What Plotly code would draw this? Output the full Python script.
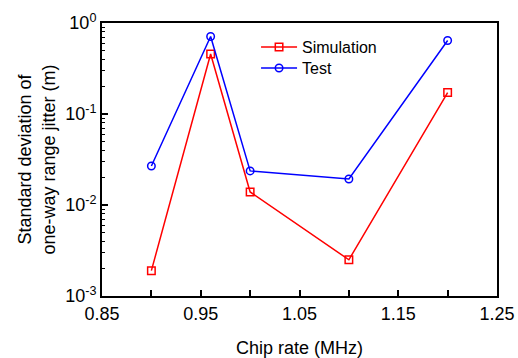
import plotly.graph_objects as go

chip_rate = [0.90, 0.96, 1.00, 1.10, 1.20]
simulation = [0.0019, 0.456, 0.0139, 0.0025, 0.172]
test = [0.0268, 0.711, 0.0237, 0.0193, 0.643]

x_tickvals = [0.85, 0.95, 1.05, 1.15, 1.25]
x_ticktext = ["0.85", "0.95", "1.05", "1.15", "1.25"]
x_minor = [0.90, 1.00, 1.10, 1.20]
y_tickvals = [1e-3, 1e-2, 1e-1, 1e0]
y_ticktext = ["10<sup>-3</sup>", "10<sup>-2</sup>", "10<sup>-1</sup>", "10<sup>0</sup>"]
y_minor = [m * 10 ** e for e in (-3, -2, -1) for m in range(2, 10)]

FONT = "Liberation Sans, Arial, sans-serif"

fig = go.Figure()
fig.add_trace(go.Scatter(
    x=chip_rate, y=simulation, name="Simulation", mode="lines+markers",
    line=dict(color="#ff0000", width=1.5), legend="legend",
    marker=dict(symbol="square-open", size=7.5, color="#ff0000", line=dict(width=1.5)),
))
fig.add_trace(go.Scatter(
    x=chip_rate, y=test, name="Test", mode="lines+markers",
    line=dict(color="#0000ff", width=1.5), legend="legend2",
    marker=dict(symbol="circle-open", size=7.5, color="#0000ff", line=dict(width=1.5)),
))

leg_common = dict(xanchor="left", yanchor="middle", bgcolor="rgba(0,0,0,0)",
                  font=dict(size=16), itemwidth=36, borderwidth=0)

fig.update_layout(
    width=518, height=358,
    margin=dict(l=102, r=21, t=23, b=62),
    paper_bgcolor="white", plot_bgcolor="white",
    font=dict(family=FONT, size=18, color="black"),
    showlegend=True,
    legend=dict(x=0.39, y=0.912, **leg_common),
    legend2=dict(x=0.39, y=0.835, **leg_common),
    xaxis=dict(
        range=[0.85, 1.25], tickmode="array", tickvals=x_tickvals, ticktext=x_ticktext,
        ticks="inside", ticklen=6, tickwidth=1.5, tickcolor="black",
        minor=dict(ticks="inside", ticklen=6, tickwidth=1.5, tickcolor="black",
                   tickmode="array", tickvals=x_minor, showgrid=False),
        showline=True, linecolor="black", linewidth=2, mirror=True,
        showgrid=False, zeroline=False, automargin=False,
        title=dict(text="Chip rate (MHz)", font=dict(size=18), standoff=19),
    ),
    yaxis=dict(
        type="log", range=[-3, 0], tickmode="array", tickvals=y_tickvals, ticktext=y_ticktext,
        ticks="inside", ticklen=6, tickwidth=1.5, tickcolor="black",
        minor=dict(ticks="inside", ticklen=3, tickwidth=1, tickcolor="black",
                   tickmode="array", tickvals=y_minor, showgrid=False),
        showline=True, linecolor="black", linewidth=2, mirror=True,
        showgrid=False, zeroline=False, automargin=False,
        title=dict(text="Standard deviation of<br>one-way range jitter (m)",
                   font=dict(size=18), standoff=5),
    ),
)

fig.write_html("out.html")
